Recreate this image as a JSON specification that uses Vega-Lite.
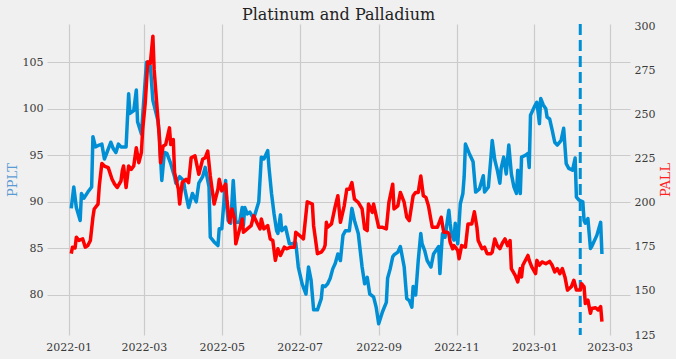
{
  "$schema": "https://vega.github.io/schema/vega-lite/v6.json",
  "width": 583,
  "height": 311,
  "autosize": {"type": "none"},
  "padding": {"left": 47, "top": 24, "right": 46, "bottom": 24},
  "background": "#f0f0f0",
  "title": {"text": "Platinum and Palladium", "font": "DejaVu Serif", "fontSize": 16, "fontWeight": "normal", "color": "#222222", "offset": -2, "anchor": "middle", "frame": "group"},
  "config": {
    "view": {"stroke": null, "fill": "#f0f0f0"},
    "axis": {"labelFont": "DejaVu Serif", "labelFontSize": 11, "labelColor": "#3a3a3a", "gridColor": "#cbcbcb", "gridWidth": 1.2, "domain": false, "ticks": false, "titleFont": "DejaVu Serif", "titleFontWeight": "normal", "titleFontSize": 13}
  },
  "datasets": {
    "pplt": [
      {"date": "2022-01-03", "v": 89.3}, {"date": "2022-01-05", "v": 91.6}, {"date": "2022-01-07", "v": 89.4}, {"date": "2022-01-10", "v": 88.0}, {"date": "2022-01-11", "v": 90.9}, {"date": "2022-01-13", "v": 90.4}, {"date": "2022-01-16", "v": 91.05}, {"date": "2022-01-19", "v": 91.6}, {"date": "2022-01-20", "v": 97.0}, {"date": "2022-01-22", "v": 95.9}, {"date": "2022-01-25", "v": 96.1}, {"date": "2022-01-27", "v": 96.2}, {"date": "2022-01-29", "v": 94.6}, {"date": "2022-01-31", "v": 95.3},
      {"date": "2022-02-03", "v": 96.4}, {"date": "2022-02-05", "v": 95.7}, {"date": "2022-02-07", "v": 95.3}, {"date": "2022-02-09", "v": 96.2}, {"date": "2022-02-11", "v": 95.9}, {"date": "2022-02-15", "v": 95.9}, {"date": "2022-02-17", "v": 101.6}, {"date": "2022-02-18", "v": 99.5}, {"date": "2022-02-21", "v": 99.8}, {"date": "2022-02-23", "v": 102.0}, {"date": "2022-02-24", "v": 98.6}, {"date": "2022-02-27", "v": 97.3},
      {"date": "2022-03-03", "v": 105.0}, {"date": "2022-03-06", "v": 104.6}, {"date": "2022-03-08", "v": 100.9}, {"date": "2022-03-12", "v": 98.7}, {"date": "2022-03-13", "v": 97.3}, {"date": "2022-03-15", "v": 92.3}, {"date": "2022-03-17", "v": 95.3}, {"date": "2022-03-19", "v": 95.2}, {"date": "2022-03-22", "v": 94.1}, {"date": "2022-03-25", "v": 92.7}, {"date": "2022-03-26", "v": 92.0}, {"date": "2022-03-29", "v": 92.7},
      {"date": "2022-04-01", "v": 92.3}, {"date": "2022-04-02", "v": 91.4}, {"date": "2022-04-05", "v": 89.4}, {"date": "2022-04-08", "v": 90.9}, {"date": "2022-04-11", "v": 90.0}, {"date": "2022-04-13", "v": 92.0}, {"date": "2022-04-16", "v": 92.7}, {"date": "2022-04-18", "v": 93.7}, {"date": "2022-04-21", "v": 91.6}, {"date": "2022-04-22", "v": 86.2}, {"date": "2022-04-25", "v": 85.7}, {"date": "2022-04-28", "v": 85.3}, {"date": "2022-04-29", "v": 87.1},
      {"date": "2022-05-01", "v": 87.1}, {"date": "2022-05-04", "v": 92.3}, {"date": "2022-05-05", "v": 89.4}, {"date": "2022-05-06", "v": 88.0}, {"date": "2022-05-08", "v": 87.7}, {"date": "2022-05-10", "v": 92.3}, {"date": "2022-05-12", "v": 87.8}, {"date": "2022-05-15", "v": 87.8}, {"date": "2022-05-17", "v": 89.4}, {"date": "2022-05-18", "v": 87.5}, {"date": "2022-05-19", "v": 89.4}, {"date": "2022-05-21", "v": 88.7}, {"date": "2022-05-23", "v": 88.9}, {"date": "2022-05-26", "v": 88.2}, {"date": "2022-05-28", "v": 89.1}, {"date": "2022-05-30", "v": 90.0},
      {"date": "2022-06-01", "v": 94.8}, {"date": "2022-06-03", "v": 94.6}, {"date": "2022-06-06", "v": 95.5}, {"date": "2022-06-07", "v": 93.7}, {"date": "2022-06-09", "v": 90.9}, {"date": "2022-06-11", "v": 88.7}, {"date": "2022-06-13", "v": 86.9}, {"date": "2022-06-14", "v": 86.6}, {"date": "2022-06-16", "v": 88.6}, {"date": "2022-06-17", "v": 86.9}, {"date": "2022-06-20", "v": 87.3}, {"date": "2022-06-23", "v": 85.5}, {"date": "2022-06-25", "v": 85.5}, {"date": "2022-06-28", "v": 85.6}, {"date": "2022-06-30", "v": 83.0},
      {"date": "2022-07-03", "v": 81.2}, {"date": "2022-07-06", "v": 80.1}, {"date": "2022-07-08", "v": 83.0}, {"date": "2022-07-10", "v": 81.6}, {"date": "2022-07-12", "v": 78.4}, {"date": "2022-07-15", "v": 78.4}, {"date": "2022-07-18", "v": 79.6}, {"date": "2022-07-19", "v": 81.0}, {"date": "2022-07-21", "v": 80.9}, {"date": "2022-07-23", "v": 81.2}, {"date": "2022-07-25", "v": 81.8}, {"date": "2022-07-27", "v": 82.8}, {"date": "2022-07-29", "v": 83.4}, {"date": "2022-07-31", "v": 84.4},
      {"date": "2022-08-02", "v": 83.7}, {"date": "2022-08-04", "v": 86.4}, {"date": "2022-08-06", "v": 86.9}, {"date": "2022-08-09", "v": 86.9}, {"date": "2022-08-11", "v": 89.3}, {"date": "2022-08-13", "v": 88.0}, {"date": "2022-08-16", "v": 86.6}, {"date": "2022-08-19", "v": 83.0}, {"date": "2022-08-21", "v": 81.2}, {"date": "2022-08-23", "v": 81.9}, {"date": "2022-08-25", "v": 80.1}, {"date": "2022-08-28", "v": 79.8}, {"date": "2022-08-30", "v": 78.7},
      {"date": "2022-09-01", "v": 76.9}, {"date": "2022-09-04", "v": 78.2}, {"date": "2022-09-07", "v": 79.2}, {"date": "2022-09-08", "v": 81.8}, {"date": "2022-09-10", "v": 82.8}, {"date": "2022-09-12", "v": 84.1}, {"date": "2022-09-13", "v": 84.3}, {"date": "2022-09-16", "v": 84.6}, {"date": "2022-09-18", "v": 85.2}, {"date": "2022-09-21", "v": 83.0}, {"date": "2022-09-23", "v": 79.6}, {"date": "2022-09-25", "v": 79.4}, {"date": "2022-09-27", "v": 78.7}, {"date": "2022-09-28", "v": 80.9}, {"date": "2022-09-30", "v": 80.0},
      {"date": "2022-10-02", "v": 83.7}, {"date": "2022-10-04", "v": 86.6}, {"date": "2022-10-05", "v": 85.5}, {"date": "2022-10-07", "v": 84.8}, {"date": "2022-10-09", "v": 83.7}, {"date": "2022-10-12", "v": 83.0}, {"date": "2022-10-14", "v": 84.4}, {"date": "2022-10-16", "v": 84.8}, {"date": "2022-10-18", "v": 85.2}, {"date": "2022-10-19", "v": 82.3}, {"date": "2022-10-21", "v": 86.6}, {"date": "2022-10-23", "v": 86.2}, {"date": "2022-10-26", "v": 89.1}, {"date": "2022-10-27", "v": 87.7}, {"date": "2022-10-28", "v": 86.6}, {"date": "2022-10-30", "v": 85.9}, {"date": "2022-10-31", "v": 87.7},
      {"date": "2022-11-02", "v": 85.5}, {"date": "2022-11-04", "v": 89.8}, {"date": "2022-11-06", "v": 90.9}, {"date": "2022-11-07", "v": 92.7}, {"date": "2022-11-08", "v": 96.2}, {"date": "2022-11-11", "v": 95.2}, {"date": "2022-11-14", "v": 94.3}, {"date": "2022-11-16", "v": 91.05}, {"date": "2022-11-19", "v": 91.4}, {"date": "2022-11-22", "v": 92.8}, {"date": "2022-11-23", "v": 91.05}, {"date": "2022-11-26", "v": 91.6}, {"date": "2022-11-28", "v": 94.8}, {"date": "2022-11-29", "v": 96.6},
      {"date": "2022-12-01", "v": 94.5}, {"date": "2022-12-03", "v": 93.4}, {"date": "2022-12-05", "v": 92.0}, {"date": "2022-12-06", "v": 93.6}, {"date": "2022-12-08", "v": 94.8}, {"date": "2022-12-10", "v": 93.0}, {"date": "2022-12-12", "v": 96.1}, {"date": "2022-12-14", "v": 93.0}, {"date": "2022-12-16", "v": 91.6}, {"date": "2022-12-18", "v": 90.9}, {"date": "2022-12-19", "v": 93.4}, {"date": "2022-12-21", "v": 90.9}, {"date": "2022-12-22", "v": 94.8}, {"date": "2022-12-25", "v": 95.0}, {"date": "2022-12-27", "v": 95.2}, {"date": "2022-12-28", "v": 93.7}, {"date": "2022-12-29", "v": 99.3},
      {"date": "2023-01-01", "v": 100.2}, {"date": "2023-01-03", "v": 100.7}, {"date": "2023-01-04", "v": 99.6}, {"date": "2023-01-05", "v": 98.4}, {"date": "2023-01-06", "v": 101.1}, {"date": "2023-01-08", "v": 100.4}, {"date": "2023-01-10", "v": 100.0}, {"date": "2023-01-11", "v": 99.1}, {"date": "2023-01-13", "v": 98.9}, {"date": "2023-01-15", "v": 97.7}, {"date": "2023-01-17", "v": 96.4}, {"date": "2023-01-19", "v": 96.1}, {"date": "2023-01-22", "v": 96.6}, {"date": "2023-01-24", "v": 97.9}, {"date": "2023-01-26", "v": 94.1}, {"date": "2023-01-28", "v": 93.6}, {"date": "2023-01-31", "v": 93.4},
      {"date": "2023-02-02", "v": 94.7}, {"date": "2023-02-03", "v": 90.5}, {"date": "2023-02-05", "v": 90.2}, {"date": "2023-02-08", "v": 90.0}, {"date": "2023-02-09", "v": 88.0}, {"date": "2023-02-10", "v": 87.7}, {"date": "2023-02-12", "v": 88.2}, {"date": "2023-02-14", "v": 85.0}, {"date": "2023-02-15", "v": 85.2}, {"date": "2023-02-19", "v": 86.4}, {"date": "2023-02-22", "v": 87.8}, {"date": "2023-02-23", "v": 84.4}
    ],
    "pall": [
      {"date": "2022-01-03", "v": 171.2}, {"date": "2022-01-04", "v": 174.9}, {"date": "2022-01-06", "v": 174.4}, {"date": "2022-01-07", "v": 180.6}, {"date": "2022-01-09", "v": 178.7}, {"date": "2022-01-12", "v": 179.6}, {"date": "2022-01-14", "v": 174.9}, {"date": "2022-01-16", "v": 175.8}, {"date": "2022-01-18", "v": 178.7}, {"date": "2022-01-20", "v": 191.9}, {"date": "2022-01-21", "v": 196.6}, {"date": "2022-01-24", "v": 199.4}, {"date": "2022-01-25", "v": 209.7}, {"date": "2022-01-27", "v": 222.5}, {"date": "2022-01-29", "v": 221.0},
      {"date": "2022-02-01", "v": 220.1}, {"date": "2022-02-04", "v": 213.5}, {"date": "2022-02-06", "v": 210.7}, {"date": "2022-02-08", "v": 208.8}, {"date": "2022-02-11", "v": 212.5}, {"date": "2022-02-12", "v": 218.2}, {"date": "2022-02-13", "v": 221.0}, {"date": "2022-02-15", "v": 208.8}, {"date": "2022-02-17", "v": 221.0}, {"date": "2022-02-19", "v": 219.1}, {"date": "2022-02-21", "v": 221.0}, {"date": "2022-02-23", "v": 231.4}, {"date": "2022-02-25", "v": 222.9}, {"date": "2022-02-27", "v": 228.6}, {"date": "2022-02-28", "v": 241.7},
      {"date": "2022-03-02", "v": 256.8}, {"date": "2022-03-04", "v": 280.2}, {"date": "2022-03-06", "v": 279.3}, {"date": "2022-03-08", "v": 294.8}, {"date": "2022-03-09", "v": 275.6}, {"date": "2022-03-11", "v": 256.8}, {"date": "2022-03-13", "v": 237.9}, {"date": "2022-03-14", "v": 222.9}, {"date": "2022-03-16", "v": 232.3}, {"date": "2022-03-18", "v": 233.2}, {"date": "2022-03-21", "v": 242.7}, {"date": "2022-03-22", "v": 233.2}, {"date": "2022-03-24", "v": 236.1}, {"date": "2022-03-25", "v": 217.3}, {"date": "2022-03-28", "v": 207.8}, {"date": "2022-03-29", "v": 199.4}, {"date": "2022-03-31", "v": 211.6},
      {"date": "2022-04-03", "v": 213.5}, {"date": "2022-04-05", "v": 211.6}, {"date": "2022-04-07", "v": 225.7}, {"date": "2022-04-10", "v": 226.8}, {"date": "2022-04-13", "v": 216.3}, {"date": "2022-04-16", "v": 224.8}, {"date": "2022-04-18", "v": 225.7}, {"date": "2022-04-20", "v": 229.5}, {"date": "2022-04-22", "v": 215.4}, {"date": "2022-04-25", "v": 199.4}, {"date": "2022-04-28", "v": 207.8}, {"date": "2022-04-29", "v": 213.5},
      {"date": "2022-05-01", "v": 206.9}, {"date": "2022-05-04", "v": 210.7}, {"date": "2022-05-05", "v": 202.2}, {"date": "2022-05-07", "v": 189.0}, {"date": "2022-05-09", "v": 196.6}, {"date": "2022-05-11", "v": 190.9}, {"date": "2022-05-12", "v": 176.8}, {"date": "2022-05-15", "v": 185.3}, {"date": "2022-05-17", "v": 190.9}, {"date": "2022-05-18", "v": 183.4}, {"date": "2022-05-21", "v": 185.3}, {"date": "2022-05-24", "v": 187.1}, {"date": "2022-05-26", "v": 192.8}, {"date": "2022-05-29", "v": 188.1}, {"date": "2022-05-31", "v": 185.3},
      {"date": "2022-06-01", "v": 190.9}, {"date": "2022-06-03", "v": 185.3}, {"date": "2022-06-06", "v": 187.1}, {"date": "2022-06-08", "v": 179.6}, {"date": "2022-06-10", "v": 178.7}, {"date": "2022-06-12", "v": 167.4}, {"date": "2022-06-14", "v": 174.0}, {"date": "2022-06-16", "v": 170.2}, {"date": "2022-06-19", "v": 174.9}, {"date": "2022-06-21", "v": 174.0}, {"date": "2022-06-24", "v": 174.9}, {"date": "2022-06-27", "v": 174.9}, {"date": "2022-06-28", "v": 183.4},
      {"date": "2022-07-01", "v": 181.5}, {"date": "2022-07-04", "v": 179.6}, {"date": "2022-07-07", "v": 200.7}, {"date": "2022-07-11", "v": 199.4}, {"date": "2022-07-12", "v": 187.1}, {"date": "2022-07-15", "v": 171.2}, {"date": "2022-07-18", "v": 172.1}, {"date": "2022-07-20", "v": 174.0}, {"date": "2022-07-21", "v": 176.0}, {"date": "2022-07-22", "v": 189.0}, {"date": "2022-07-23", "v": 186.2}, {"date": "2022-07-26", "v": 188.1}, {"date": "2022-07-29", "v": 198.4}, {"date": "2022-07-31", "v": 204.1},
      {"date": "2022-08-02", "v": 189.0}, {"date": "2022-08-05", "v": 198.4}, {"date": "2022-08-07", "v": 207.8}, {"date": "2022-08-09", "v": 207.8}, {"date": "2022-08-11", "v": 211.6}, {"date": "2022-08-13", "v": 202.2}, {"date": "2022-08-16", "v": 200.3}, {"date": "2022-08-19", "v": 196.6}, {"date": "2022-08-21", "v": 185.3}, {"date": "2022-08-23", "v": 184.3}, {"date": "2022-08-24", "v": 199.4}, {"date": "2022-08-27", "v": 194.7}, {"date": "2022-08-28", "v": 199.4}, {"date": "2022-08-30", "v": 192.8},
      {"date": "2022-09-01", "v": 186.2}, {"date": "2022-09-04", "v": 186.2}, {"date": "2022-09-07", "v": 185.3}, {"date": "2022-09-09", "v": 200.3}, {"date": "2022-09-12", "v": 210.7}, {"date": "2022-09-13", "v": 196.6}, {"date": "2022-09-16", "v": 198.4}, {"date": "2022-09-18", "v": 206.0}, {"date": "2022-09-21", "v": 200.3}, {"date": "2022-09-23", "v": 191.9}, {"date": "2022-09-25", "v": 190.0}, {"date": "2022-09-28", "v": 204.1}, {"date": "2022-09-30", "v": 206.0},
      {"date": "2022-10-02", "v": 206.0}, {"date": "2022-10-04", "v": 215.4}, {"date": "2022-10-06", "v": 204.1}, {"date": "2022-10-08", "v": 203.2}, {"date": "2022-10-10", "v": 198.4}, {"date": "2022-10-13", "v": 186.2}, {"date": "2022-10-17", "v": 186.2}, {"date": "2022-10-20", "v": 191.9}, {"date": "2022-10-22", "v": 183.4}, {"date": "2022-10-25", "v": 183.4}, {"date": "2022-10-26", "v": 182.4}, {"date": "2022-10-27", "v": 177.8}, {"date": "2022-10-29", "v": 174.0}, {"date": "2022-10-30", "v": 175.8}, {"date": "2022-10-31", "v": 174.9},
      {"date": "2022-11-02", "v": 173.0}, {"date": "2022-11-03", "v": 168.3}, {"date": "2022-11-05", "v": 175.8}, {"date": "2022-11-08", "v": 174.9}, {"date": "2022-11-10", "v": 188.1}, {"date": "2022-11-13", "v": 188.1}, {"date": "2022-11-15", "v": 195.0}, {"date": "2022-11-17", "v": 186.2}, {"date": "2022-11-18", "v": 178.7}, {"date": "2022-11-21", "v": 174.0}, {"date": "2022-11-23", "v": 174.9}, {"date": "2022-11-25", "v": 171.2}, {"date": "2022-11-28", "v": 171.2}, {"date": "2022-11-29", "v": 172.1},
      {"date": "2022-12-01", "v": 179.6}, {"date": "2022-12-03", "v": 175.8}, {"date": "2022-12-05", "v": 174.0}, {"date": "2022-12-07", "v": 177.3}, {"date": "2022-12-09", "v": 179.6}, {"date": "2022-12-11", "v": 175.8}, {"date": "2022-12-13", "v": 178.7}, {"date": "2022-12-14", "v": 162.7}, {"date": "2022-12-17", "v": 158.9}, {"date": "2022-12-19", "v": 155.2}, {"date": "2022-12-21", "v": 162.7}, {"date": "2022-12-22", "v": 158.0}, {"date": "2022-12-23", "v": 164.6}, {"date": "2022-12-27", "v": 170.2}, {"date": "2022-12-28", "v": 167.4}, {"date": "2022-12-30", "v": 163.7},
      {"date": "2023-01-02", "v": 159.9}, {"date": "2023-01-03", "v": 167.4}, {"date": "2023-01-05", "v": 164.6}, {"date": "2023-01-07", "v": 166.5}, {"date": "2023-01-10", "v": 165.5}, {"date": "2023-01-13", "v": 166.8}, {"date": "2023-01-15", "v": 164.6}, {"date": "2023-01-17", "v": 160.8}, {"date": "2023-01-19", "v": 162.7}, {"date": "2023-01-21", "v": 159.9}, {"date": "2023-01-23", "v": 162.7}, {"date": "2023-01-25", "v": 158.0}, {"date": "2023-01-27", "v": 150.5}, {"date": "2023-01-30", "v": 152.4},
      {"date": "2023-02-01", "v": 156.1}, {"date": "2023-02-03", "v": 150.5}, {"date": "2023-02-06", "v": 150.5}, {"date": "2023-02-07", "v": 154.2}, {"date": "2023-02-09", "v": 152.4}, {"date": "2023-02-10", "v": 142.9}, {"date": "2023-02-12", "v": 144.8}, {"date": "2023-02-14", "v": 137.3}, {"date": "2023-02-15", "v": 140.1}, {"date": "2023-02-18", "v": 140.5}, {"date": "2023-02-20", "v": 139.2}, {"date": "2023-02-22", "v": 141.1}, {"date": "2023-02-23", "v": 132.6}
    ],
    "marker": [{"date": "2023-02-06"}]
  },
  "encoding": {
    "x": {
      "field": "date", "type": "temporal",
      "scale": {"type": "utc", "domain": [{"year": 2021, "month": 12, "date": 15, "utc": true}, {"year": 2023, "month": 3, "date": 17, "utc": true}]},
      "axis": {
        "title": null, "labelPadding": 6, "labelFlush": false,
        "values": [
          {"year": 2022, "month": 1, "date": 1, "utc": true}, {"year": 2022, "month": 3, "date": 1, "utc": true}, {"year": 2022, "month": 5, "date": 1, "utc": true}, {"year": 2022, "month": 7, "date": 1, "utc": true}, {"year": 2022, "month": 9, "date": 1, "utc": true}, {"year": 2022, "month": 11, "date": 1, "utc": true}, {"year": 2023, "month": 1, "date": 1, "utc": true}, {"year": 2023, "month": 3, "date": 1, "utc": true}
        ],
        "labelExpr": "utcFormat(datum.value, '%Y-%m')"
      }
    }
  },
  "layer": [
    {
      "data": {"name": "pplt"},
      "mark": {"type": "line", "color": "#008fd5", "strokeWidth": 3.5, "strokeJoin": "round"},
      "encoding": {
        "y": {"field": "v", "type": "quantitative", "scale": {"domain": [75.7, 109.1], "nice": false, "zero": false},
          "axis": {"orient": "left", "title": "PPLT", "titleColor": "#5b9bd5", "values": [80, 85, 90, 95, 100, 105], "labelPadding": 4, "titlePadding": 3}}
      }
    },
    {
      "data": {"name": "marker"},
      "mark": {"type": "rule", "color": "#008fd5", "strokeWidth": 3, "strokeDash": [11, 5]},
      "encoding": {}
    },
    {
      "data": {"name": "pall"},
      "mark": {"type": "line", "color": "#ff0000", "strokeWidth": 3.5, "strokeJoin": "round"},
      "encoding": {
        "y": {"field": "v", "type": "quantitative", "scale": {"domain": [125, 301.7], "nice": false, "zero": false},
          "axis": {"orient": "right", "title": "PALL", "titleColor": "#ff2020", "titleAngle": 270, "values": [125, 150, 175, 200, 225, 250, 275, 300], "labelPadding": 4, "titlePadding": 18}}
      }
    }
  ],
  "resolve": {"scale": {"y": "independent"}}
}
